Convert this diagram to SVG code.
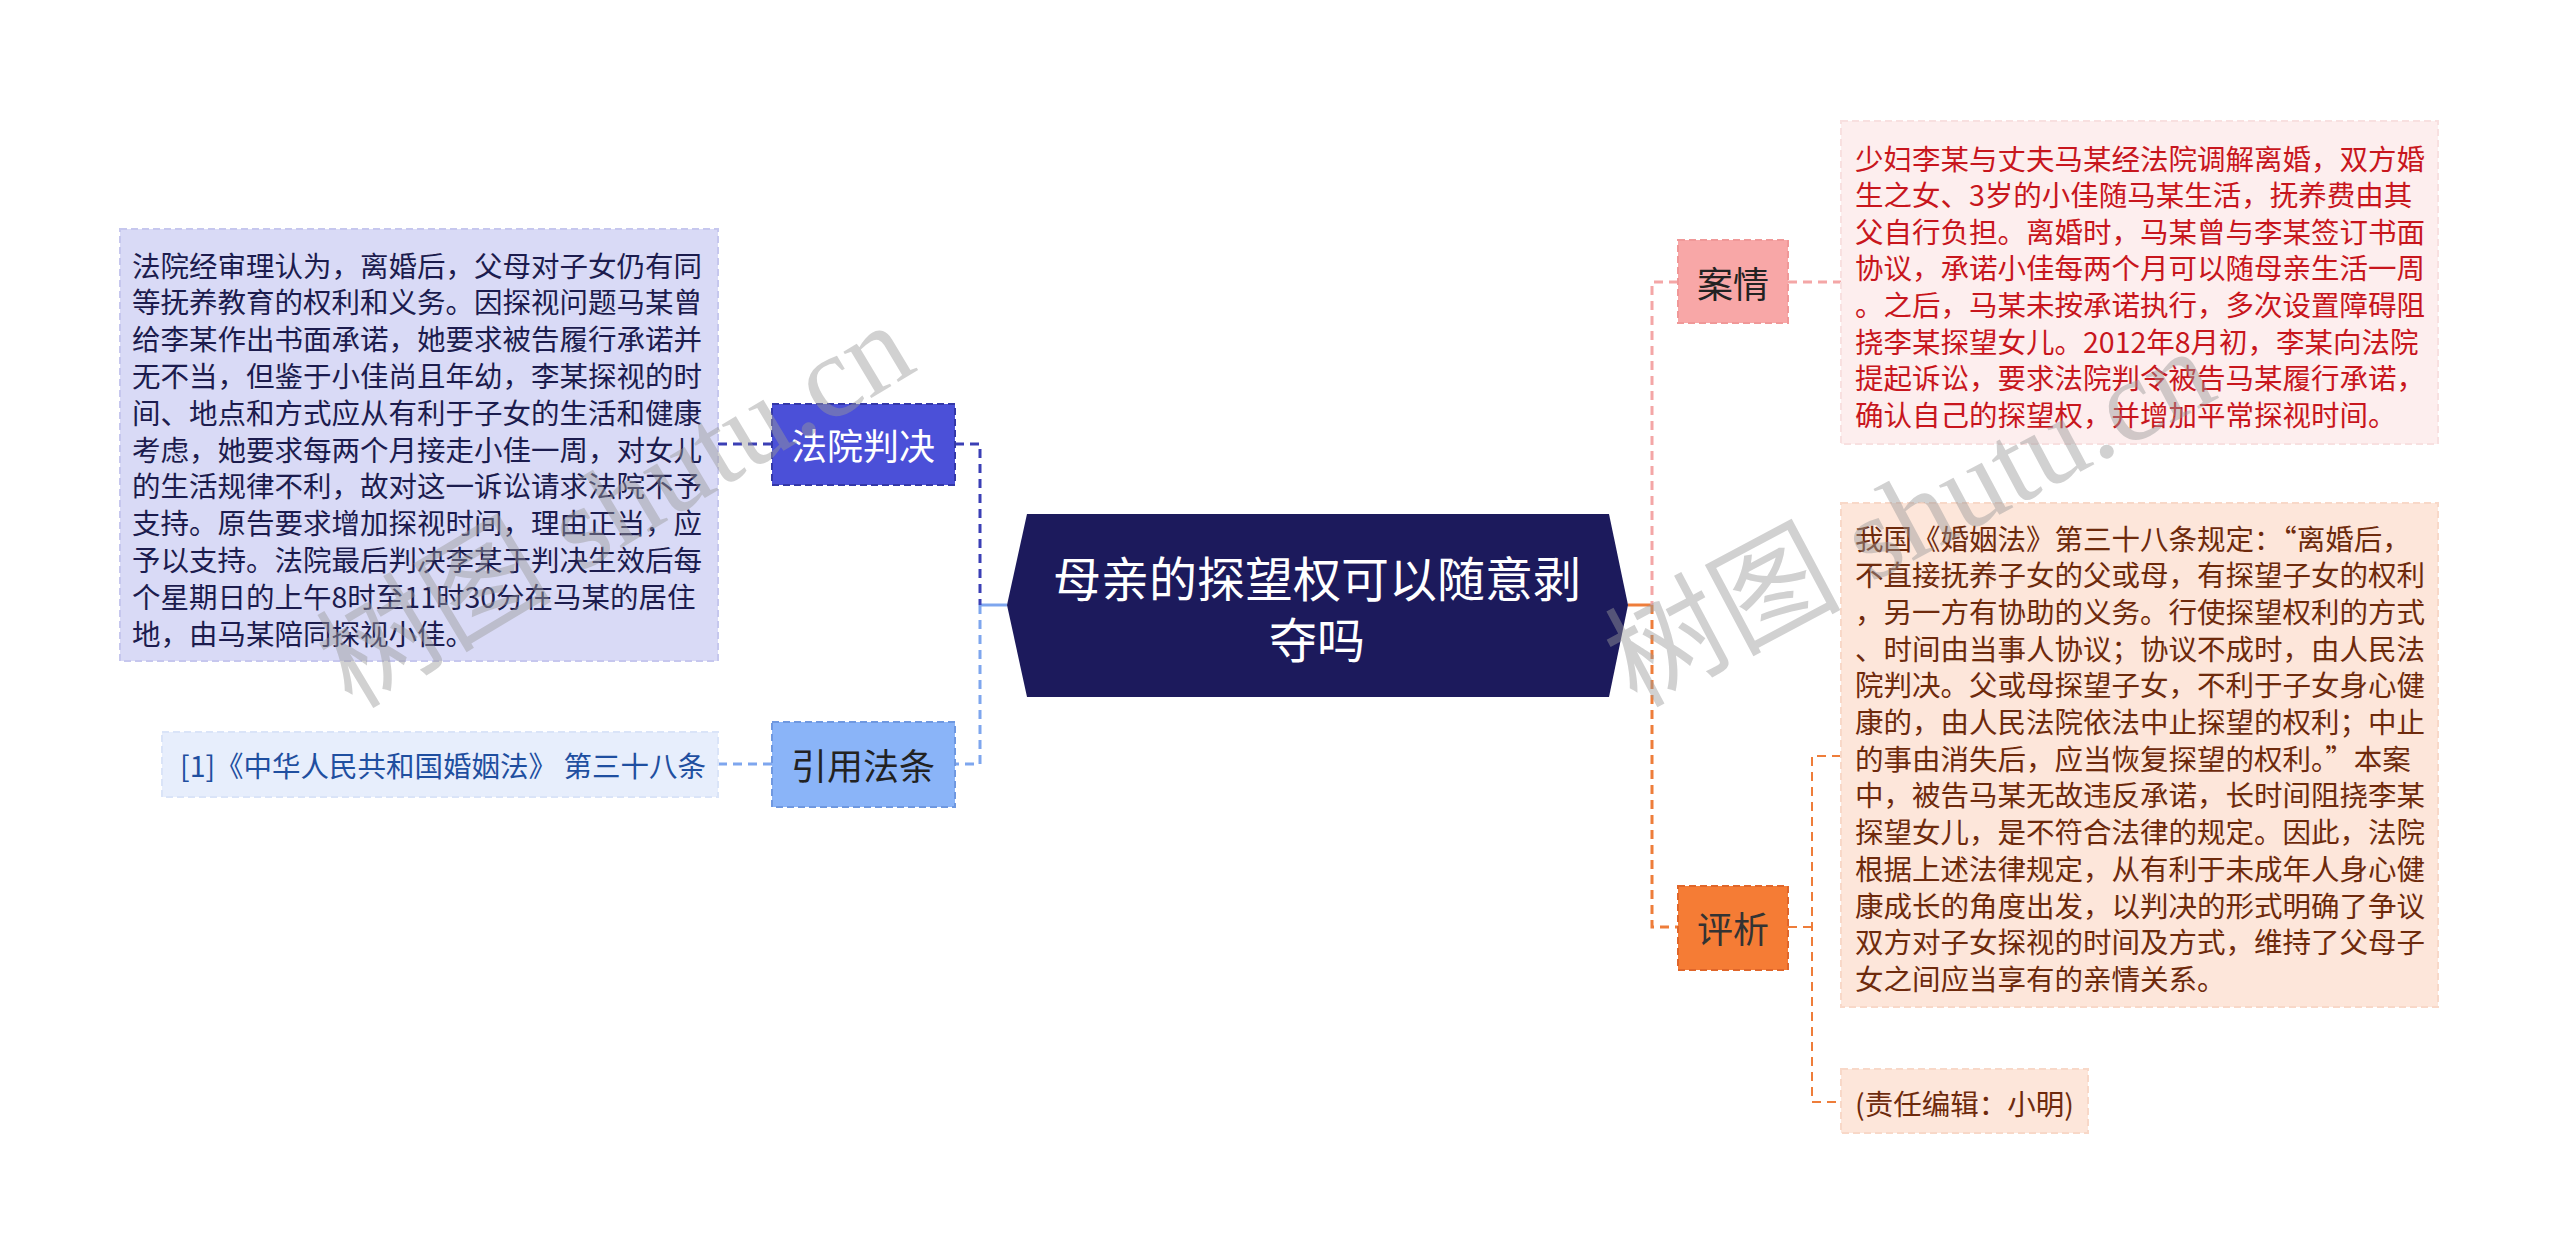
<svg xmlns="http://www.w3.org/2000/svg" width="2560" height="1255" viewBox="0 0 2560 1255">
<style>
text{font-family:"Noto Sans CJK SC","Noto Sans",sans-serif;}
.body{font-size:28.5px;dominant-baseline:central;}
.sub{font-size:36px;dominant-baseline:central;text-anchor:middle;}
.fw{font-feature-settings:"fwid";}
.conn{fill:none;stroke-width:3;stroke-dasharray:9 6;}
.thin{fill:none;stroke-width:2;stroke-dasharray:9 6;}
.solid{fill:none;stroke-width:3;}
.box{stroke-width:2;stroke-dasharray:7 4;}
.wm{font-family:"Liberation Serif","Noto Sans CJK SC",serif;font-size:118px;fill:#9a9a9a;opacity:0.45;}
</style>
<rect width="2560" height="1255" fill="#ffffff"/>

<g id="connectors">
  <path class="solid" stroke="#7ea6ee" d="M1007 605 H980"/>
  <path class="conn" stroke="#3b3fb5" d="M955 444 H980 V605"/>
  <path class="conn" stroke="#7ea6ee" d="M980 605 V764 H955"/>
  <path class="conn" stroke="#3b3fb5" d="M772 444 H718"/>
  <path class="conn" stroke="#7ea6ee" d="M772 764 H718"/>
  <path class="solid" stroke="#ee7d3a" d="M1628 605 H1652"/>
  <path class="conn" stroke="#f4a6a6" d="M1678 282 H1652 V605"/>
  <path class="conn" stroke="#ee7d3a" d="M1652 605 V927 H1678"/>
  <path class="conn" stroke="#f4a6a6" d="M1788 282 H1841"/>
  <path class="thin" stroke="#ee7d3a" d="M1788 927 H1812"/>
  <path class="thin" stroke="#ee7d3a" d="M1841 756 H1812 V1102 H1841"/>
</g>

<g id="root">
  <polygon points="1007,605 1027,514 1609,514 1628,605 1609,697 1027,697" fill="#1c1a5c"/>
  <text x="1317" y="576" font-size="48" fill="#ffffff" text-anchor="middle" dominant-baseline="central">母亲的探望权可以随意剥</text>
  <text x="1317" y="637" font-size="48" fill="#ffffff" text-anchor="middle" dominant-baseline="central">夺吗</text>
</g>

<g id="node-fayuanpanjue">
  <rect class="box" x="772" y="404" width="183" height="81" fill="#4b50d8" stroke="#3438a8"/>
  <text class="sub" x="863" y="444" fill="#ffffff">法院判决</text>
</g>
<g id="node-panjue-text">
  <rect class="box" x="120" y="229" width="598" height="432" fill="#d9daf6" stroke="#c6c7ee"/>
  <g fill="#1c1c4e">
    <text class="body" x="132" y="264">法院经审理认为，离婚后，父母对子女仍有同</text>
    <text class="body" x="132" y="300.8">等抚养教育的权利和义务。因探视问题马某曾</text>
    <text class="body" x="132" y="337.6">给李某作出书面承诺，她要求被告履行承诺并</text>
    <text class="body" x="132" y="374.4">无不当，但鉴于小佳尚且年幼，李某探视的时</text>
    <text class="body" x="132" y="411.2">间、地点和方式应从有利于子女的生活和健康</text>
    <text class="body" x="132" y="448">考虑，她要求每两个月接走小佳一周，对女儿</text>
    <text class="body" x="132" y="484.8">的生活规律不利，故对这一诉讼请求法院不予</text>
    <text class="body" x="132" y="521.6">支持。原告要求增加探视时间，理由正当，应</text>
    <text class="body" x="132" y="558.4">予以支持。法院最后判决李某于判决生效后每</text>
    <text class="body" x="132" y="595.2">个星期日的上午8时至11时30分在马某的居住</text>
    <text class="body" x="132" y="632">地，由马某陪同探视小佳。</text>
  </g>
</g>

<g id="node-yinyongfatiao">
  <rect class="box" x="772" y="722" width="183" height="85" fill="#8ab4f8" stroke="#6f98e0"/>
  <text class="sub" x="863" y="764" fill="#222222">引用法条</text>
</g>
<g id="node-ref">
  <rect class="box" x="162" y="732" width="556" height="65" fill="#e7eefc" stroke="#dae4f8"/>
  <text class="body" x="180" y="764" fill="#1f4fa0">[1]《中华人民共和国婚姻法》 第三十八条</text>
</g>

<g id="node-anqing">
  <rect class="box" x="1678" y="240" width="110" height="83" fill="#f8a7a7" stroke="#f09898"/>
  <text class="sub" x="1733" y="282" fill="#222222">案情</text>
</g>
<g id="node-anqing-text">
  <rect class="box" x="1841" y="121" width="597" height="323" fill="#fdeeee" stroke="#f8e0e0"/>
  <g fill="#c8161d">
    <text class="body" x="1855" y="157">少妇李某与丈夫马某经法院调解离婚，双方婚</text>
    <text class="body" x="1855" y="193.6">生之女、3岁的小佳随马某生活，抚养费由其</text>
    <text class="body" x="1855" y="230.2">父自行负担。离婚时，马某曾与李某签订书面</text>
    <text class="body" x="1855" y="266.8">协议，承诺小佳每两个月可以随母亲生活一周</text>
    <text class="body" x="1855" y="303.4">。之后，马某未按承诺执行，多次设置障碍阻</text>
    <text class="body" x="1855" y="340">挠李某探望女儿。2012年8月初，李某向法院</text>
    <text class="body" x="1855" y="376.6">提起诉讼，要求法院判令被告马某履行承诺，</text>
    <text class="body" x="1855" y="413.2">确认自己的探望权，并增加平常探视时间。</text>
  </g>
</g>

<g id="node-pingxi">
  <rect class="box" x="1678" y="886" width="110" height="84" fill="#f57c35" stroke="#e0662a"/>
  <text class="sub" x="1733" y="927" fill="#333333">评析</text>
</g>
<g id="node-pingxi-text">
  <rect class="box" x="1841" y="503" width="597" height="504" fill="#fde6da" stroke="#f8d8c8"/>
  <g fill="#6e2a0c">
    <text class="body" x="1855" y="537">我国《婚姻法》第三十八条规定：<tspan class="fw">“</tspan>离婚后，</text>
    <text class="body" x="1855" y="573.7">不直接抚养子女的父或母，有探望子女的权利</text>
    <text class="body" x="1855" y="610.4">，另一方有协助的义务。行使探望权利的方式</text>
    <text class="body" x="1855" y="647.1">、时间由当事人协议；协议不成时，由人民法</text>
    <text class="body" x="1855" y="683.8">院判决。父或母探望子女，不利于子女身心健</text>
    <text class="body" x="1855" y="720.5">康的，由人民法院依法中止探望的权利；中止</text>
    <text class="body" x="1855" y="757.2">的事由消失后，应当恢复探望的权利。<tspan class="fw">”</tspan>本案</text>
    <text class="body" x="1855" y="793.9">中，被告马某无故违反承诺，长时间阻挠李某</text>
    <text class="body" x="1855" y="830.6">探望女儿，是不符合法律的规定。因此，法院</text>
    <text class="body" x="1855" y="867.3">根据上述法律规定，从有利于未成年人身心健</text>
    <text class="body" x="1855" y="904">康成长的角度出发，以判决的形式明确了争议</text>
    <text class="body" x="1855" y="940.7">双方对子女探视的时间及方式，维持了父母子</text>
    <text class="body" x="1855" y="977.4">女之间应当享有的亲情关系。</text>
  </g>
</g>
<g id="node-editor">
  <rect class="box" x="1841" y="1069" width="247" height="64" fill="#fde6da" stroke="#f8d8c8"/>
  <text class="body" x="1855" y="1102" fill="#6e2a0c">(责任编辑：小明)</text>
</g>

<g id="watermarks">
  <text class="wm" transform="translate(352 710) rotate(-31)">树图 shutu.cn</text>
  <text class="wm" transform="translate(1636 708) rotate(-28)">树图 shutu.cn</text>
</g>
</svg>
